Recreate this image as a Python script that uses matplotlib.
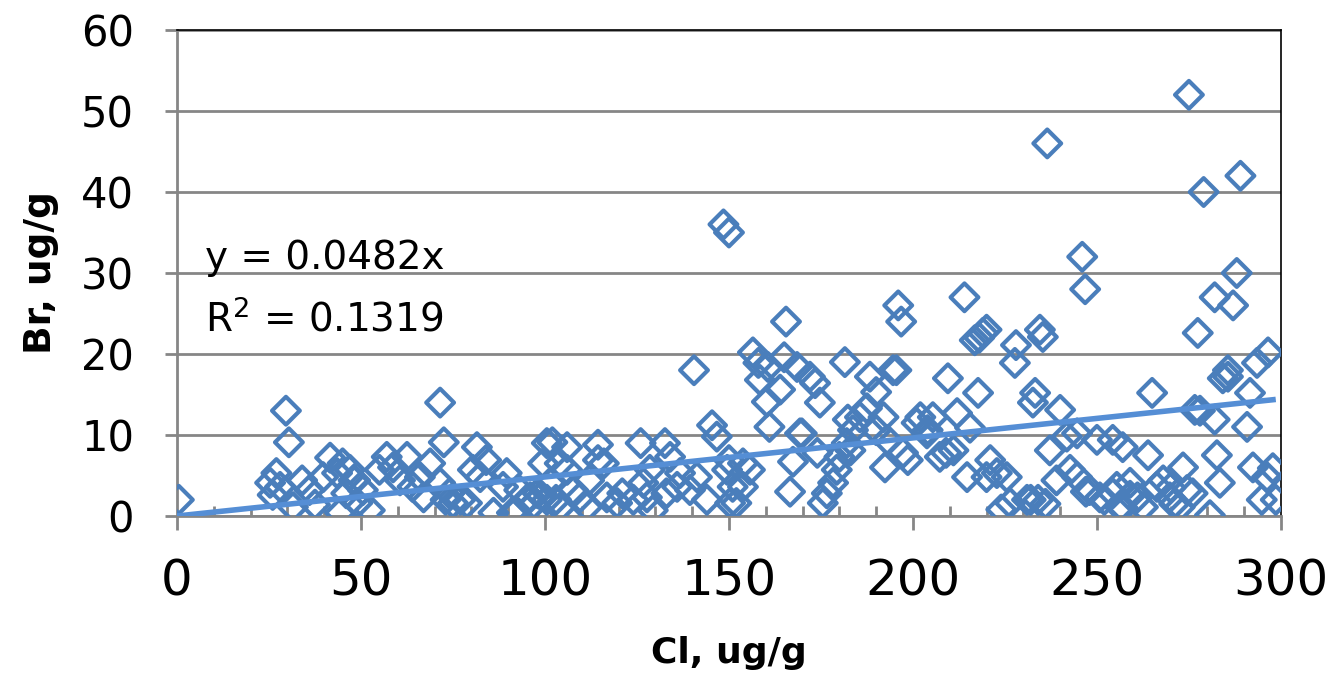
import numpy as np
import matplotlib
matplotlib.use("Agg")
import matplotlib.pyplot as plt
from matplotlib.ticker import MultipleLocator

# Cl / Br pairs (ug/g)
cl = [0.5, 29.6, 30.4, 27, 25.3, 26, 28, 31.5, 34, 36, 37.5, 41.6, 39.7, 43.5, 45, 44.3, 48, 46, 49,
      71.5, 72.5, 47, 48.4, 52.4, 50.5, 57, 55, 62.5, 58.7, 60.6, 68.8, 66, 67, 64, 71.5, 74, 73,
      81.5, 84, 80.4, 82.4, 89.6, 88.6, 86, 91, 93, 96, 100.5, 99.5, 98, 77, 78.8, 75,
      140.5, 145.4, 146.7, 102, 106, 104, 106, 114.4, 116, 114.4, 126, 132.6, 134, 128.5, 126.7, 136.7,
      141.3, 149.5, 151, 150.3, 144, 101.4, 100.5, 111.4, 107.6, 116.8, 121, 119.6, 124, 129.3, 127.7,
      133, 135.9, 139.4, 112, 109.5, 92, 95, 97, 99, 103, 104, 148.5, 150,
      156.5, 158, 160.6, 165, 168.5, 158.4, 163.9, 160.3, 172, 173.4, 174.7, 181.5, 161, 169.3, 188.3,
      194.6, 190, 187.5, 182.3, 185.6, 192, 183.7, 182, 190, 193, 201, 204, 197.3, 198.6, 192.4, 174,
      167.4, 169.8, 150, 153.8, 155.7, 153.8, 152, 166.6, 180, 179.3, 178.3, 176.6, 175.5, 183, 165.5,
      196, 196.8, 195.5, 214, 218, 220,
      216.8, 219, 228, 227.7, 235.3, 209.5, 217.7, 233.2, 232.6, 240, 202, 205.4, 212, 215.5, 203.8,
      209, 211, 207.3, 214.7, 221, 222.8, 225.5, 220, 226.4, 231, 237.2, 241.8, 244.6, 250, 254.3, 239,
      242.7, 244.6, 248, 250.8, 254.3, 234, 236, 247, 252, 257, 259, 224, 232, 236.5, 246, 246.8, 234.5,
      277.4, 296.5, 293.5, 285.6, 285.6, 284.2, 291.6, 265, 276.6, 282, 290.8, 257, 263.9, 282.6, 273.4,
      292.4, 297.8, 283.4, 296.2, 276, 294.8, 298.6, 280.7, 255.4, 259, 261, 266.3, 268, 269.8, 272.5,
      262.5, 256.3, 274.5, 275, 279, 289, 288, 282, 287, 278, 270, 271]
br = [2, 13, 9.1, 5.3, 4.1, 2.6, 3.6, 1.1, 4.4, 3.2, 1.4, 7.2, 4.8, 5.3, 6.5, 0.4, 4.4, 2.8, 1.6,
      14, 9.1, 5.7, 4.4, 0.7, 3.2, 7.3, 5.7, 7.3, 6, 4.4, 6.5, 4.8, 2.3, 3.6, 4.1, 2.8, 2,
      8.5, 6.9, 5.7, 4.8, 5.3, 3.6, 0.4, 0.4, 3.2, 2.3, 9, 6.5, 2.8, 2, 1.6, 1.6,
      18, 11.2, 9.8, 9.1, 8.5, 6.5, 5.7, 8.8, 6.5, 6.9, 9, 9, 7.3, 5.7, 4.1, 5.3,
      4.8, 5.7, 3.6, 1.6, 2, 4.1, 2, 1.1, 3.2, 2.3, 2.8, 1.6, 2, 0.7, 2.3,
      2.8, 3.6, 3.2, 4.4, 2.3, 0.5, 2, 1.5, 2.5, 2, 1, 36, 35,
      20.2, 18.9, 18.4, 19.6, 18.4, 16.8, 15.6, 14.1, 17.2, 16.4, 14, 19, 11, 10.2, 17.2,
      18, 15.3, 13.3, 11.9, 12.2, 12.2, 10.6, 9, 10.6, 9.4, 11.5, 10.6, 7.8, 6.9, 6, 7.8,
      6.7, 10.2, 6.9, 6.5, 5.7, 3.6, 1.6, 3, 7.3, 5.7, 4.1, 2.8, 1.6, 8.1, 24,
      26, 24, 18, 27, 22, 23,
      21.7, 22.6, 21.1, 18.9, 22.1, 17, 15.2, 15.2, 14, 13.1, 12.2, 12.2, 12.7, 10.9, 10.2,
      7.8, 8.1, 7.3, 4.8, 6.9, 5.3, 4.8, 4.8, 1.6, 2, 8.1, 9.8, 10.2, 9.4, 9.4, 4.4,
      5.7, 4.8, 3.2, 2.3, 2.8, 2, 1.5, 3, 2, 1, 2.5, 0.8, 2, 46, 32, 28, 23,
      22.6, 20.2, 18.9, 18, 17.2, 17, 15.2, 15.2, 13.1, 11.9, 11, 8.5, 7.5, 7.5, 6,
      6, 5.9, 4.1, 4.8, 2.8, 2, 2, 0.1, 3.6, 4.1, 2.3, 3.6, 4.4, 2.3, 1.1,
      1.1, 1.1, 3.2, 52, 40, 42, 30, 27, 26, 13, 3.5, 1.5]

slope = 0.0482
r2 = 0.1319

fig = plt.figure(figsize=(13.26, 6.82), dpi=100)
ax = fig.add_axes([0.1335, 0.2434, 0.8325, 0.7126])

ax.scatter(cl, br, marker='D', s=200, facecolors='none', edgecolors='#4A7EBB', linewidths=3, zorder=3)

xfit = np.array([0, max(cl)])
ax.plot(xfit, slope * xfit, color='#558ED5', linewidth=4, solid_capstyle='butt', zorder=4)

ax.set_xlim(0, 300)
ax.set_ylim(0, 60)
ax.xaxis.set_major_locator(MultipleLocator(50))
ax.xaxis.set_minor_locator(MultipleLocator(10))
ax.yaxis.set_major_locator(MultipleLocator(10))

ax.yaxis.grid(True, color='#868686', linewidth=2)
ax.set_axisbelow(True)

for s in ['left', 'bottom']:
    ax.spines[s].set_color('#868686')
    ax.spines[s].set_linewidth(2)
for s in ['top', 'right']:
    ax.spines[s].set_color('black')
    ax.spines[s].set_linewidth(1.2)

ax.tick_params(axis='x', which='major', direction='out', length=10, width=2, color='#868686',
               labelsize=28, pad=20)
ax.tick_params(axis='x', which='minor', direction='in', length=7, width=2, color='#868686')
ax.tick_params(axis='y', which='major', direction='out', length=9, width=2, color='#868686',
               labelsize=30, pad=22)
for lab in ax.get_xticklabels():
    lab.set_family(['Liberation Sans Narrow', 'DejaVu Sans'])
    lab.set_fontsize(36)

ax.set_xlabel('Cl, ug/g', fontsize=26, fontweight='bold', labelpad=22)
ax.set_ylabel('Br, ug/g', fontsize=27, fontweight='bold', labelpad=16)

ax.text(7.5, 31.8, 'y = 0.0482x', fontsize=28, va='center')
ax.text(7.5, 24.3, 'R$^2$ = 0.1319', fontsize=28, va='center')

fig.savefig('out.png', dpi=100)
